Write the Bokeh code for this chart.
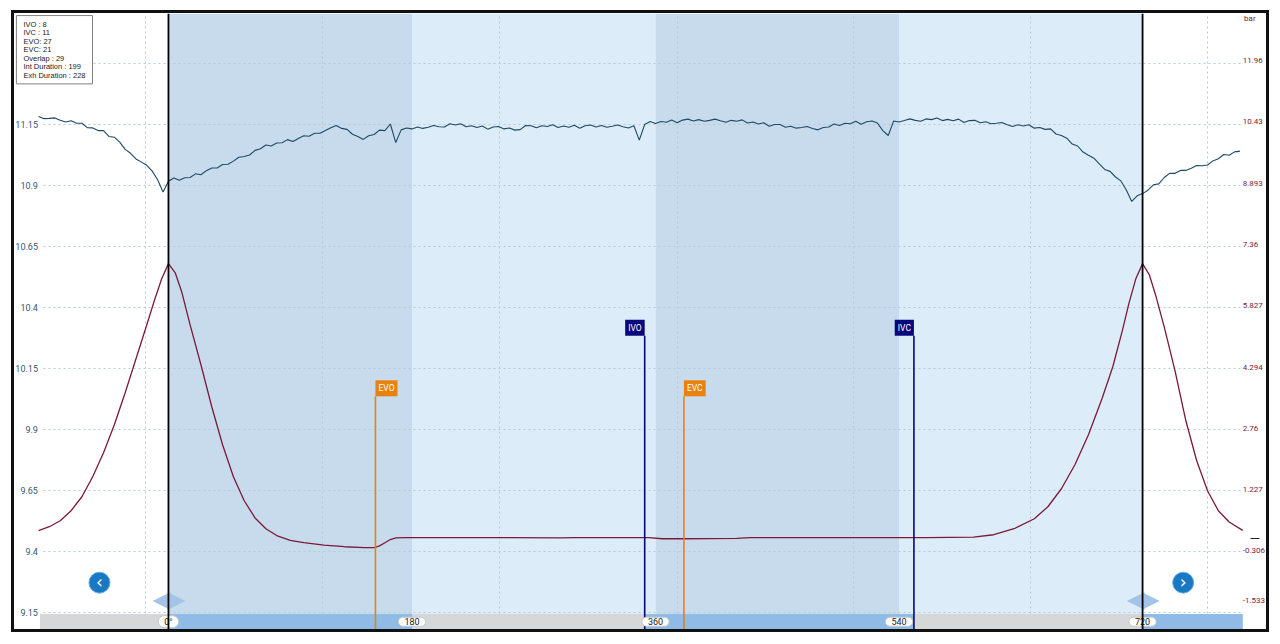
from bokeh.plotting import figure
from bokeh.models import (Range1d, LinearAxis, FixedTicker, BoxAnnotation, Span,
                          Label, Grid, ColumnDataSource)
from bokeh.core.properties import value
from bokeh.embed import file_html
from bokeh.resources import INLINE

# ---------------- data ----------------
teal_angle = list(range(-96, 796, 4))
teal_value = [
    11.183, 11.174, 11.175, 11.177, 11.167, 11.160, 11.165, 11.155, 11.155, 11.137,
    11.136, 11.125, 11.125, 11.101, 11.098, 11.078, 11.048, 11.032, 11.009, 10.996,
    10.983, 10.959, 10.924, 10.874, 10.918, 10.931, 10.922, 10.932, 10.933, 10.948,
    10.944, 10.961, 10.972, 10.972, 10.986, 10.987, 11.000, 11.016, 11.019, 11.025,
    11.044, 11.051, 11.066, 11.062, 11.074, 11.075, 11.088, 11.080, 11.093, 11.104,
    11.102, 11.114, 11.114, 11.125, 11.137, 11.146, 11.134, 11.130, 11.110, 11.101,
    11.089, 11.104, 11.109, 11.127, 11.125, 11.152, 11.076, 11.128, 11.136, 11.132,
    11.140, 11.134, 11.139, 11.146, 11.141, 11.140, 11.153, 11.148, 11.153, 11.141,
    11.145, 11.138, 11.144, 11.131, 11.140, 11.142, 11.132, 11.136, 11.127, 11.129,
    11.146, 11.145, 11.137, 11.145, 11.142, 11.149, 11.138, 11.144, 11.139, 11.147,
    11.135, 11.145, 11.148, 11.140, 11.146, 11.139, 11.143, 11.148, 11.141, 11.136,
    11.145, 11.086, 11.150, 11.162, 11.154, 11.162, 11.159, 11.168, 11.157, 11.168,
    11.172, 11.164, 11.170, 11.163, 11.167, 11.172, 11.165, 11.159, 11.167, 11.163,
    11.169, 11.156, 11.160, 11.152, 11.157, 11.143, 11.150, 11.150, 11.139, 11.143,
    11.135, 11.138, 11.142, 11.134, 11.128, 11.138, 11.140, 11.152, 11.146, 11.155,
    11.153, 11.163, 11.151, 11.161, 11.164, 11.156, 11.125, 11.105, 11.164, 11.160,
    11.166, 11.173, 11.167, 11.163, 11.173, 11.170, 11.177, 11.166, 11.171, 11.165,
    11.172, 11.158, 11.166, 11.167, 11.157, 11.161, 11.153, 11.155, 11.158, 11.149,
    11.142, 11.149, 11.144, 11.149, 11.135, 11.138, 11.130, 11.132, 11.111, 11.105,
    11.094, 11.070, 11.062, 11.037, 11.024, 11.012, 10.989, 10.966, 10.958, 10.935,
    10.919, 10.882, 10.835, 10.858, 10.867, 10.881, 10.903, 10.907, 10.933, 10.950,
    10.950, 10.962, 10.962, 10.971, 10.982, 10.981, 10.984, 11.001, 11.010, 11.027,
    11.024, 11.038, 11.041,
]

red_angle = [-96, -88, -80, -72, -64, -56, -48, -40, -32, -24, -16, -10, -5, 0, 5, 10,
             16, 24, 32, 40, 48, 56, 64, 72, 80, 90, 100, 115, 130, 145, 152, 156, 160,
             164, 168, 175, 250, 290, 300, 355, 365, 380, 420, 430, 500, 560, 595, 610,
             625, 640, 650, 660, 670, 680, 690, 698, 705, 710, 715, 720, 725, 730, 736,
             744, 752, 760, 768, 776, 784, 794]
red_value = [0.20, 0.30, 0.45, 0.70, 1.05, 1.55, 2.15, 2.85, 3.65, 4.50, 5.35, 6.00, 6.50,
             6.88, 6.65, 6.15, 5.35, 4.35, 3.30, 2.35, 1.55, 0.95, 0.52, 0.25, 0.08, -0.04,
             -0.10, -0.16, -0.20, -0.22, -0.22, -0.18, -0.10, -0.02, 0.02, 0.03, 0.03, 0.02,
             0.03, 0.03, 0.00, 0.00, 0.01, 0.03, 0.03, 0.03, 0.04, 0.10, 0.25, 0.50, 0.80,
             1.25, 1.85, 2.60, 3.50, 4.30, 5.20, 5.90, 6.50, 6.88, 6.60, 6.05, 5.30, 4.20,
             2.95, 1.95, 1.20, 0.70, 0.42, 0.21]

left_ticks = [9.15, 9.4, 9.65, 9.9, 10.15, 10.4, 10.65, 10.9, 11.15, 11.4]
left_labels = ["9.15", "9.4", "9.65", "9.9", "10.15", "10.4", "10.65", "10.9", "11.15", "11.4"]
right_ticks = [11.96, 10.43, 8.893, 7.36, 5.827, 4.294, 2.76, 1.227, -0.306, -1.533]
right_labels = ["11.96", "10.43", "8.893", "7.36", "5.827", "4.294", "2.76", "1.227",
                "-0.306", "-1.533"]
right_unit = "bar"
right_zero = [0]

band_start = [0, 180, 360, 540]
band_end = [180, 360, 540, 720]

event_names = ["EVO", "IVO", "EVC", "IVC"]
event_angles = [153, 352, 381, 551]
event_kind = ["exh", "int", "exh", "int"]

tdc_angles = [0, 720]
bar_label_text = ["0°", "180", "360", "540", "720"]
bar_label_angles = [0, 180, 360, 540, 720]
bar_blue_start = [0, 352, 720]
bar_blue_end = [180, 551, 794]

summary_lines = ["IVO : 8", "IVC : 11", "EVO: 27", "EVC: 21", "Overlap : 29",
                 "Int Duration : 199", "Exh Duration : 228"]

# ---------------- layout / style constants ----------------
X_LO, X_HI = -113.8, 811.6          # full canvas width (axes are drawn inside)
DATA_L, DATA_R = -95, 794           # where the two y axes sit
Y0, Y1 = 9.0822, 11.6045
R0, R1 = -2.270, 13.135
BAR_TOP = 9.146
EXH_LABEL_LEVEL = 10.037
INT_LABEL_LEVEL = 10.285
NAV_LEVEL = 9.274
ARROW_LEVEL = 9.209
DARK_BAND = "#c7dbec"
LIGHT_BAND = "#dcecf9"
ORANGE = "#e8820e"
NAVY = "#08087c"
LEFT_COL = "#3a5576"
RIGHT_COL = "#7a2336"

p = figure(width=1252, height=616, x_range=Range1d(X_LO, X_HI), y_range=Range1d(Y0, Y1),
           x_axis_location=None, y_axis_location="left",
           output_backend="svg", toolbar_location=None,
           min_border_left=0, min_border_right=0, min_border_top=0, min_border_bottom=0,
           background_fill_color="white", border_fill_color="white",
           outline_line_color=None)
p.margin = (13, 0, 0, 14)
p.styles = {"outline": "3px solid #111"}
p.grid.visible = False

p.extra_y_ranges = {"right": Range1d(R0, R1)}

# bands
for i, (a, b) in enumerate(zip(band_start, band_end)):
    p.add_layout(BoxAnnotation(left=a, right=b, fill_color=DARK_BAND if i % 2 == 0 else LIGHT_BAND,
                               fill_alpha=1, line_color=None, level="image"))

# grids
grid_style = dict(grid_line_color="#b9c9d6", grid_line_dash="2 3", grid_line_width=1)
p.add_layout(Grid(dimension=1, ticker=FixedTicker(ticks=left_ticks),
                  cross_bounds=(-92.4, 792.4), **grid_style))
p.add_layout(Grid(dimension=0, ticker=FixedTicker(ticks=[-17, 114, 245, 376, 506, 637, 768]),
                  cross_bounds=(BAR_TOP, Y1), **grid_style))

# axes (fixed inside the frame, so the frame can span the whole box)
ax = p.yaxis[0]
ax.fixed_location = DATA_L
ax.ticker = FixedTicker(ticks=left_ticks)
ax.major_label_overrides = {t: s for t, s in zip(left_ticks, left_labels)}
ax.major_tick_out = 0
ax.major_tick_in = 0
ax.minor_tick_out = 0
ax.minor_tick_in = 0
ax.axis_line_color = None
ax.major_label_standoff = 2
ax.major_label_text_font = "Roboto"
ax.major_label_text_font_size = "9px"
ax.major_label_text_color = LEFT_COL

rax = LinearAxis(y_range_name="right", ticker=FixedTicker(ticks=right_ticks),
                 fixed_location=DATA_R,
                 major_label_overrides={t: s for t, s in zip(right_ticks, right_labels)},
                 major_tick_out=0, major_tick_in=0, minor_tick_out=0, minor_tick_in=0,
                 axis_line_color=None, major_label_standoff=0,
                 major_label_text_font="Roboto", major_label_text_font_size="8px",
                 major_label_text_color=RIGHT_COL)
p.add_layout(rax, "right")
# small zero marker on the right scale
zax = LinearAxis(y_range_name="right", ticker=FixedTicker(ticks=right_zero),
                 fixed_location=DATA_R + 6, major_label_overrides={0: ""},
                 major_tick_out=9, major_tick_in=0, minor_tick_out=0, minor_tick_in=0,
                 major_tick_line_color="#222", axis_line_color=None)
p.add_layout(zax, "right")
p.text(x=[DATA_R + 1], y=[R1], text=[right_unit], y_range_name="right",
       text_baseline="top", text_align="left", text_color=RIGHT_COL,
       text_font=value("Roboto"), text_font_size="8px")

# bottom position bar
p.quad(left=[DATA_L], right=[DATA_R], bottom=[Y0], top=[BAR_TOP], fill_color="#d6d7d9",
       line_color=None)
p.quad(left=bar_blue_start, right=bar_blue_end, bottom=[Y0] * len(bar_blue_start),
       top=[BAR_TOP] * len(bar_blue_start), fill_color="#8fbbe6", line_color=None)

# curves
p.line(red_angle, red_value, y_range_name="right", line_color="#7a1a38", line_width=1.3)
p.line(teal_angle, teal_value, line_color="#1c4a66", line_width=1.1)

# event markers
levels = [EXH_LABEL_LEVEL if k == "exh" else INT_LABEL_LEVEL for k in event_kind]
colors = [ORANGE if k == "exh" else NAVY for k in event_kind]
p.segment(x0=event_angles, x1=event_angles, y0=[Y0] * 4, y1=levels,
          line_color=colors, line_width=1.6)
src_ev = ColumnDataSource(dict(x=event_angles, y=levels, t=event_names, c=colors,
                               a=["left" if k == "exh" else "right" for k in event_kind]))
p.text(x="x", y="y", text="t", source=src_ev, text_color="white", text_align="a",
       text_baseline="bottom", text_font=value("Roboto"), text_font_size="8.5px",
       background_fill_color="c", padding=3)

# TDC lines
for a in tdc_angles:
    p.add_layout(Span(location=a, dimension="height", line_color="black", line_width=1.8))

# pills on the bar
p.text(x=bar_label_angles, y=[(Y0 + BAR_TOP) / 2] * 5, text=bar_label_text,
       text_align="center", text_baseline="middle", text_color="#222",
       text_font=value("Roboto"), text_font_size="9px",
       background_fill_color="white", border_line_color="#c8c8c8", border_radius=6,
       padding=(6, 1))

# navigation decorations
p.scatter(x=[-51, 750], y=[NAV_LEVEL, NAV_LEVEL], size=21, marker="circle",
          fill_color="#1878c2", line_color="#6aaee0", line_width=1)
p.text(x=[-51, 750], y=[NAV_LEVEL, NAV_LEVEL], text=["‹", "›"], text_align="center",
       text_baseline="middle", text_color="white", text_font=value("DejaVu Sans"),
       text_font_size="17px", y_offset=-1)
for a in tdc_angles:
    p.text(x=[a, a], y=[ARROW_LEVEL, ARROW_LEVEL], text=["◀", "▶"], x_offset=[-7, 8],
           text_align="center", text_baseline="middle", text_color="#a3c4e8",
           text_font=value("DejaVu Sans"), text_font_size="23px")

# summary box
p.add_layout(Label(x=-112.4, y=11.596, text="\n".join(summary_lines), anchor="top_left",
                   text_font="Liberation Sans", text_font_size="7.5px", text_color="#222",
                   text_line_height=0.95, background_fill_color="white",
                   border_line_color="#808080", border_line_width=1, padding=(7, 4)))

open("out.html", "w").write(file_html(p, INLINE))
